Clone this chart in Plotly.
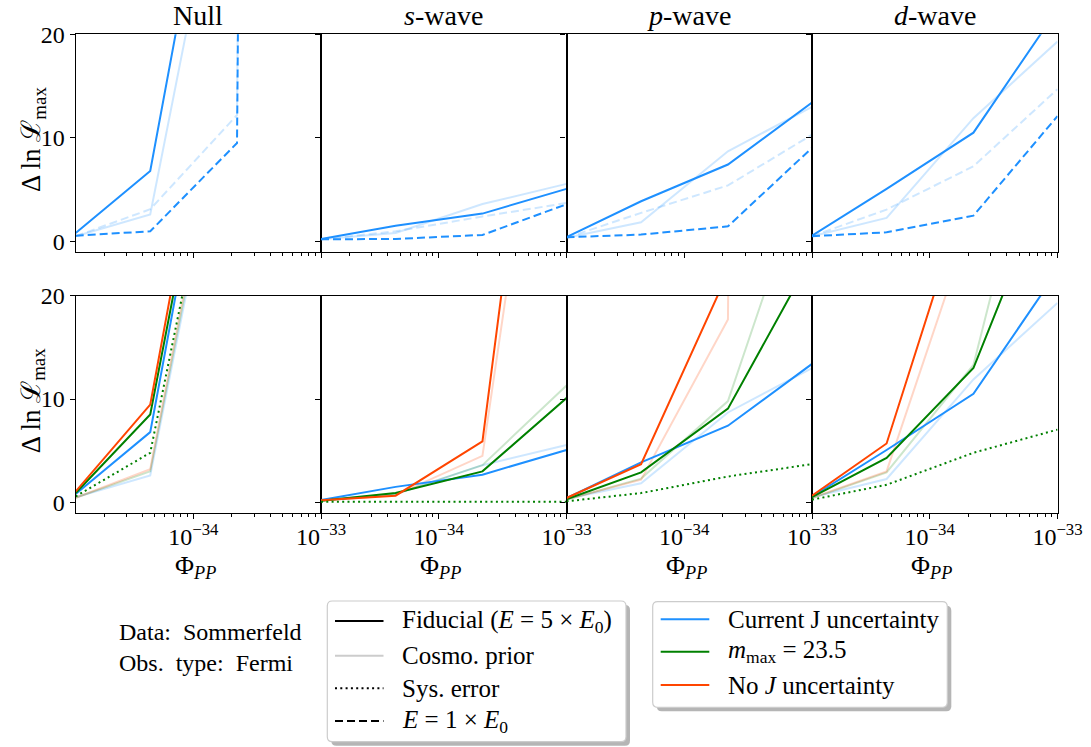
import math
import plotly.graph_objects as go
from plotly.subplots import make_subplots

W, H = 1091, 747

# ---------------- data ----------------
phi = [1.2e-35, 4.6e-35, 2.2e-34, 1.0e-33]
models = ["Null", "<i>s</i>-wave", "<i>p</i>-wave", "<i>d</i>-wave"]

# top row: current J uncertainty; fiducial (E=5E0) and E=1E0, with/without cosmo prior
top_fid = [
    [0.8, 6.8, 52, 150],
    [0.23, 1.5, 2.68, 5.07],
    [0.4, 3.87, 7.42, 13.4],
    [0.55, 5.07, 10.5, 22.4],
]
top_fid_cosmo = [
    [0.5, 2.6, 45, 140],
    [0.2, 0.8, 3.6, 5.55],
    [0.35, 1.84, 8.7, 13.0],
    [0.5, 2.26, 11.9, 19.3],
]
top_e1 = [
    [0.55, 0.97, 9.5, 1000],
    [0.2, 0.23, 0.62, 3.58],
    [0.4, 0.65, 1.45, 9.03],
    [0.5, 0.87, 2.48, 12.1],
]
top_e1_cosmo = [
    [0.5, 3.1, 12.2, 1000],
    [0.2, 0.97, 2.4, 3.7],
    [0.35, 2.75, 5.4, 10.3],
    [0.5, 3.07, 7.25, 14.7],
]

# bottom row: fiducial energy, J-uncertainty variants
bot_blue = top_fid
bot_blue_cosmo = top_fid_cosmo
bot_green = [
    [0.9, 8.5, 52, 150],
    [0.15, 0.9, 3.0, 10.1],
    [0.3, 2.9, 9.07, 23.8],
    [0.5, 4.3, 13.0, 33.3],
]
bot_green_cosmo = [
    [0.45, 3.0, 46, 140],
    [0.15, 0.8, 3.6, 11.3],
    [0.25, 2.3, 9.8, 33.8],
    [0.4, 2.9, 13.3, 45.6],
]
bot_red = [
    [1.06, 9.46, 55, 160],
    [0.2, 0.65, 5.9, 69],
    [0.42, 3.7, 22.2, 60],
    [0.65, 5.7, 32.1, 100],
]
bot_red_cosmo = [
    [0.45, 3.2, 47, 140],
    [0.15, 0.7, 4.5, 60],
    [0.3, 2.2, 17.7, 1000],
    [0.45, 3.0, 28, 90],
]
bot_sys = [
    [0.58, 4.8, 46, 140],
    [0.05, 0.05, 0.05, 0.05],
    [0.1, 0.9, 2.5, 3.7],
    [0.26, 1.7, 4.8, 7.04],
]

x_ticks = [1e-34, 1e-33]
x_ticktext = ["10<sup>\u221234</sup>", "10<sup>\u221233</sup>"]
x_minor = [k * 1e-35 for k in range(2, 10)] + [k * 1e-34 for k in range(2, 10)]
y_ticks = [0, 10, 20]

legend1_labels = ["Fiducial (<i>E</i> = 5 \u00d7 <i>E</i><sub>0</sub>)", "Cosmo. prior",
                  "Sys. error", "<i>E</i> = 1 \u00d7 <i>E</i><sub>0</sub>"]
legend2_labels = ["Current J uncertainty", "<i>m</i><sub>max</sub> = 23.5",
                  "No <i>J</i> uncertainty"]
info_lines = ["Data:  Sommerfeld", "Obs.  type:  Fermi"]

# ---------------- style ----------------
BLUE = "#1E90FF"
GREEN = "#008000"
RED = "#FF4500"
BLUE_L = "rgba(30,144,255,0.22)"
GREEN_L = "rgba(0,128,0,0.2)"
RED_L = "rgba(255,69,0,0.22)"
FONT = "Liberation Serif, DejaVu Serif, serif"
LW = 2

fig = make_subplots(rows=2, cols=4)

def px_x(p):
    return p / W

def px_y(p):
    return 1 - p / H

col_edges = [75.7, 321.0, 566.5, 812.0, 1057.5]
row_edges = [(34.3, 251.7), (295.7, 512.7)]

def add(row, col, y, color, dash="solid"):
    fig.add_trace(go.Scatter(x=phi, y=y, mode="lines", showlegend=False,
                             line=dict(color=color, width=LW, dash=dash),
                             hoverinfo="skip"), row=row, col=col)

for i in range(4):
    c = i + 1
    add(1, c, top_fid_cosmo[i], BLUE_L)
    add(1, c, top_e1_cosmo[i], BLUE_L, "8px,4px")
    add(1, c, top_fid[i], BLUE)
    add(1, c, top_e1[i], BLUE, "8px,4px")
    add(2, c, bot_blue_cosmo[i], BLUE_L)
    add(2, c, bot_green_cosmo[i], GREEN_L)
    add(2, c, bot_red_cosmo[i], RED_L)
    add(2, c, bot_blue[i], BLUE)
    add(2, c, bot_green[i], GREEN)
    add(2, c, bot_red[i], RED)
    add(2, c, bot_sys[i], GREEN, "2px,3.3px")

xr = [math.log10(phi[0]), math.log10(phi[-1])]

for r in range(2):
    for c in range(4):
        idx = r * 4 + c + 1
        xa = "xaxis" if idx == 1 else f"xaxis{idx}"
        ya = "yaxis" if idx == 1 else f"yaxis{idx}"
        fig.layout[xa].update(
            type="log", range=xr, automargin=False,
            domain=[px_x(col_edges[c]), px_x(col_edges[c + 1])],
            tickmode="array", tickvals=x_ticks, ticktext=x_ticktext,
            showticklabels=(r == 1), ticks="outside", ticklen=5, tickwidth=1,
            ticklabelstandoff=-3,
            tickcolor="black", showgrid=False, zeroline=False,
            showline=True, mirror=True, linecolor="black", linewidth=1.2,
            tickfont=dict(family=FONT, size=24, color="black"),
            minor=dict(tickmode="array", tickvals=x_minor, ticks="outside",
                       ticklen=3, tickwidth=1, tickcolor="black", showgrid=False),
        )
        y0, y1 = row_edges[r]
        fig.layout[ya].update(
            range=[-1, 20], domain=[px_y(y1), px_y(y0)], automargin=False,
            tickmode="array", tickvals=y_ticks,
            showticklabels=(c == 0), ticks="outside", ticklen=5, tickwidth=1,
            tickcolor="black", showgrid=False, zeroline=False,
            showline=True, mirror=True, linecolor="black", linewidth=1.2,
            tickfont=dict(family=FONT, size=24, color="black"),
        )

annotations = []
centers = [(col_edges[i] + col_edges[i + 1]) / 2 for i in range(4)]
for i, m in enumerate(models):
    annotations.append(dict(text=m, x=px_x(centers[i]), y=px_y(15), xref="paper", yref="paper",
                            showarrow=False, font=dict(family=FONT, size=28, color="black"),
                            xanchor="center", yanchor="middle"))
    annotations.append(dict(text="\u03a6<sub><i>PP</i></sub>", x=px_x(centers[i] - 3), y=px_y(567),
                            xref="paper", yref="paper", showarrow=False,
                            font=dict(family=FONT, size=26, color="black"),
                            xanchor="center", yanchor="middle"))
for (y0, y1) in row_edges:
    annotations.append(dict(text="\u0394 ln \u2112<sub>max</sub>", x=px_x(33), y=px_y((y0 + y1) / 2 - 3),
                            xref="paper", yref="paper", showarrow=False, textangle=-90,
                            font=dict(family=FONT, size=27, color="black"),
                            xanchor="center", yanchor="middle"))

for txt, yy in zip(info_lines, [632, 663]):
    annotations.append(dict(text=txt, x=px_x(117), y=px_y(yy), xref="paper", yref="paper",
                            showarrow=False, xanchor="left", yanchor="middle",
                            font=dict(family=FONT, size=24, color="black")))

shapes = []

def rbox(x0, y0, x1, y1, fill, line_color, r=5):
    rx, ry = r / W, r / H
    X0, X1 = px_x(x0), px_x(x1)
    Y0, Y1 = px_y(y1), px_y(y0)
    path = (f"M{X0 + rx},{Y0} L{X1 - rx},{Y0} Q{X1},{Y0} {X1},{Y0 + ry} "
            f"L{X1},{Y1 - ry} Q{X1},{Y1} {X1 - rx},{Y1} L{X0 + rx},{Y1} "
            f"Q{X0},{Y1} {X0},{Y1 - ry} L{X0},{Y0 + ry} Q{X0},{Y0} {X0 + rx},{Y0} Z")
    return dict(type="path", path=path, xref="paper", yref="paper",
                fillcolor=fill, line=dict(color=line_color, width=1.2), layer="above")

def legend_box(x0, y0, x1, y1):
    shapes.append(rbox(x0 + 4, y0 + 4, x1 + 4, y1 + 4, "rgba(120,120,120,0.55)", "rgba(0,0,0,0)"))
    shapes.append(rbox(x0, y0, x1, y1, "white", "#cccccc"))

legend_box(327.3, 601, 626, 741.7)
legend_box(652.7, 601.7, 947.3, 707.3)

leg1_rows = [621, 655.7, 688.3, 721]
leg1_styles = [("black", "solid"), ("#cccccc", "solid"), ("black", "2px,3.3px"), ("black", "8px,4px")]
for yy, (col, dash), lab in zip(leg1_rows, leg1_styles, legend1_labels):
    shapes.append(dict(type="line", xref="paper", yref="paper", x0=px_x(335), x1=px_x(383.5),
                       y0=px_y(yy), y1=px_y(yy), line=dict(color=col, width=LW, dash=dash), layer="above"))
    annotations.append(dict(text=lab, x=px_x(400), y=px_y(yy), xref="paper", yref="paper",
                            showarrow=False, xanchor="left", yanchor="middle",
                            font=dict(family=FONT, size=25, color="black")))

leg2_rows = [619.3, 651.7, 685]
leg2_colors = [BLUE, GREEN, RED]
for yy, col, lab in zip(leg2_rows, leg2_colors, legend2_labels):
    shapes.append(dict(type="line", xref="paper", yref="paper", x0=px_x(660.7), x1=px_x(709.3),
                       y0=px_y(yy), y1=px_y(yy), line=dict(color=col, width=LW), layer="above"))
    annotations.append(dict(text=lab, x=px_x(726), y=px_y(yy), xref="paper", yref="paper",
                            showarrow=False, xanchor="left", yanchor="middle",
                            font=dict(family=FONT, size=25, color="black")))

fig.update_layout(
    width=W, height=H, margin=dict(l=0, r=0, t=0, b=0, autoexpand=False),
    paper_bgcolor="white", plot_bgcolor="white",
    annotations=annotations, shapes=shapes, showlegend=False,
    font=dict(family=FONT, color="black"),
)

fig.write_html("out.html", config={"displayModeBar": False},
               post_script="document.body.style.margin='0';document.body.style.overflow='hidden';")
